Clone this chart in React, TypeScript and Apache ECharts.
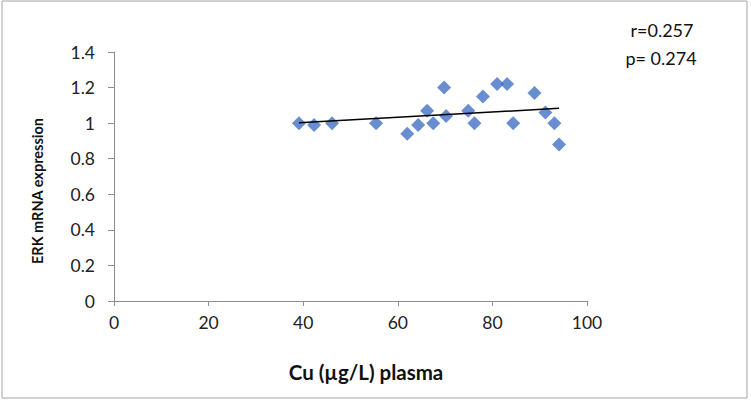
import React, { useEffect, useRef } from "react";
import * as echarts from "echarts";

const cuPlasma = [39.1, 42.3, 46.1, 55.4, 62.0, 64.3, 66.2, 67.5, 69.8, 70.2, 74.9, 76.2, 78.0, 81.0, 83.1, 84.4, 88.9, 91.2, 93.1, 94.1];
const erkExpression = [1.0, 0.99, 1.0, 1.0, 0.94, 0.99, 1.07, 1.0, 1.2, 1.04, 1.07, 1.0, 1.15, 1.22, 1.22, 1.0, 1.17, 1.06, 1.0, 0.88];
const xTicks = [0, 20, 40, 60, 80, 100];
const yTicks = [0, 0.2, 0.4, 0.6, 0.8, 1, 1.2, 1.4];
const statLines = ["r=0.257", "p= 0.274"];
const xTitle = "Cu (µg/L) plasma";
const yTitle = "ERK mRNA expression";

const FONT = "Lato, 'Open Sans', sans-serif";

function trend(xs: number[], ys: number[]) {
  const n = xs.length;
  const mx = xs.reduce((a, b) => a + b, 0) / n;
  const my = ys.reduce((a, b) => a + b, 0) / n;
  let sxy = 0, sxx = 0;
  for (let i = 0; i < n; i++) {
    sxy += (xs[i] - mx) * (ys[i] - my);
    sxx += (xs[i] - mx) * (xs[i] - mx);
  }
  const b = sxy / sxx;
  const a = my - b * mx;
  const x0 = Math.min(...xs);
  const x1 = Math.max(...xs);
  return [[x0, a + b * x0], [x1, a + b * x1]];
}

export default function App() {
  const ref = useRef<HTMLDivElement>(null);
  useEffect(() => {
    if (!ref.current) return;
    const chart = echarts.init(ref.current, undefined, { renderer: "svg" });
    const pts = cuPlasma.map((x, i) => [x, erkExpression[i]]);
    chart.setOption({
      animation: false,
      backgroundColor: "#ffffff",
      grid: { left: 114, right: 164, top: 52, bottom: 100 },
      xAxis: {
        type: "value",
        min: xTicks[0],
        max: xTicks[xTicks.length - 1],
        interval: xTicks[1] - xTicks[0],
        axisLine: { show: true, lineStyle: { color: "#8c8c8c", width: 1 } },
        axisTick: { show: true, length: 5, lineStyle: { color: "#8c8c8c" } },
        axisLabel: { color: "#222", fontSize: 17.5, fontFamily: FONT, margin: 12 },
        splitLine: { show: false },
      },
      yAxis: {
        type: "value",
        min: yTicks[0],
        max: yTicks[yTicks.length - 1],
        interval: 0.2,
        axisLine: { show: true, lineStyle: { color: "#8c8c8c", width: 1 } },
        axisTick: { show: true, length: 6, lineStyle: { color: "#8c8c8c" } },
        axisLabel: { color: "#222", fontSize: 17.5, fontFamily: FONT, margin: 19 },
        splitLine: { show: false },
      },
      graphic: [
        {
          type: "rect",
          shape: { x: 2, y: 1, width: 745, height: 397 },
          style: { fill: "none", stroke: "#a6a6a6", lineWidth: 1 },
          silent: true,
          z: -1,
        },
        {
          type: "text",
          x: 662,
          y: 30,
          style: { text: statLines[0], fontSize: 18, fontFamily: FONT, fill: "#111", align: "center", verticalAlign: "middle" },
        },
        {
          type: "text",
          x: 661,
          y: 58,
          style: { text: statLines[1], fontSize: 18, fontFamily: FONT, fill: "#111", align: "center", verticalAlign: "middle" },
        },
        {
          type: "text",
          x: 366,
          y: 372,
          style: { text: xTitle, fontSize: 20.5, fontWeight: "bold", fontFamily: FONT, fill: "#111", align: "center", verticalAlign: "middle" },
        },
        {
          type: "text",
          x: 37,
          y: 191,
          rotation: Math.PI / 2,
          style: { text: yTitle, fontSize: 14.5, fontWeight: "bold", fontFamily: FONT, fill: "#111", align: "center", verticalAlign: "middle" },
        },
      ],
      series: [
        {
          type: "scatter",
          data: pts,
          symbol: "diamond",
          symbolSize: 14,
          itemStyle: { color: "#4472c4" },
          z: 2,
        },
        {
          type: "line",
          data: trend(cuPlasma, erkExpression),
          showSymbol: false,
          symbol: "none",
          lineStyle: { color: "#000", width: 1.5 },
          z: 3,
        },
      ],
    });
    return () => chart.dispose();
  }, []);
  return <div ref={ref} style={{ position: "absolute", left: 0, top: 0, width: 751, height: 401 }} />;
}
